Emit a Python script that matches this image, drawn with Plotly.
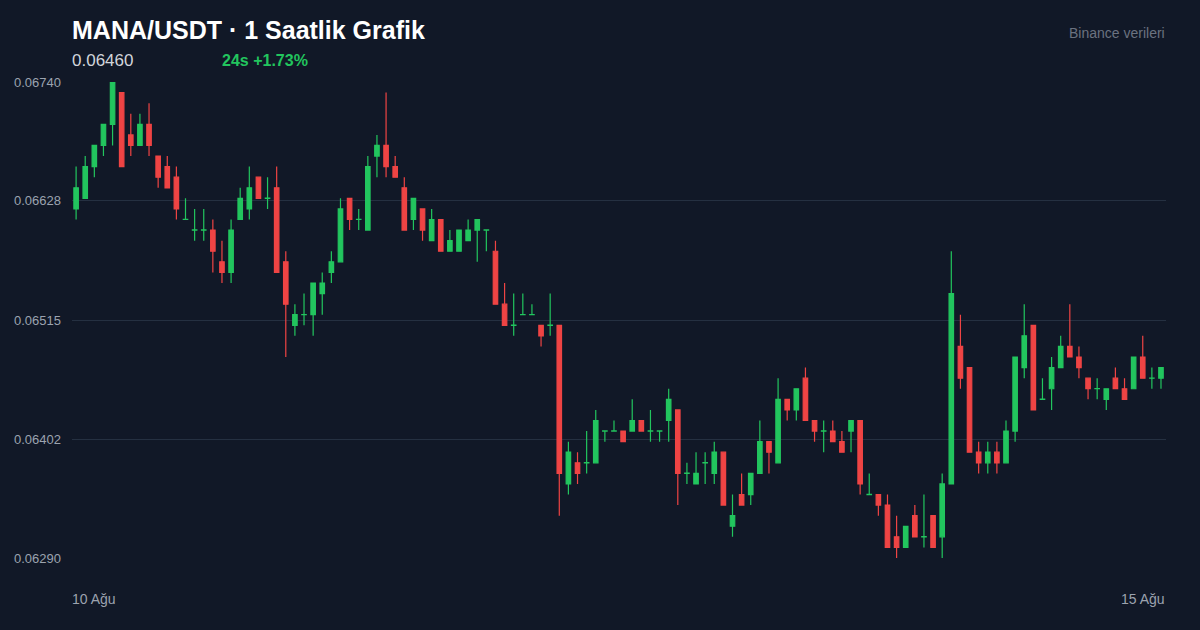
import plotly.graph_objects as go

BASE = 0.0674
STEP = 0.0001
# values in steps below 0.06740
open_k  = [12,11,8,6,4,1,5,6,4,7,8,9,13,14,14,14,17,18,13,12,
           9,11,10,17,23,22,22,20,18,17,11,13,14,7,6,8,10,13,12,15,
           13,16,16,15,14,14,16,21,23,22,22,23,23,23,38,36,36,36,33,33,
           33,33,32,33,33,32,31,37,38,36,37,35,42,39,39,37,34,36,30,31,
           28,32,33,33,34,33,32,39,39,40,43,44,41,43,41,43,38,25,27,35,
           36,35,36,33,27,23,30,29,27,25,26,28,29,30,28,29,29,26,28,28]
close_k = [10,8,6,4,0,8,6,4,6,9,10,12,13,14,14,16,18,14,11,10,
           11,11,18,21,22,22,19,19,17,12,13,13,8,6,8,9,14,11,14,13,
           16,15,14,14,13,14,21,23,23,22,22,24,23,37,35,37,36,32,33,33,
           34,32,33,33,33,30,37,37,37,36,35,40,41,40,37,34,35,30,31,29,
           32,33,33,34,35,32,38,39,40,44,44,42,43,43,44,38,20,28,35,36,
           35,36,33,26,24,31,30,27,25,26,27,29,29,29,29,30,26,28,28,27]
high_k  = [8,7,6,4,0,1,3,3,2,7,7,8,11,12,12,13,15,13,10,8,
           9,9,8,16,21,20,19,18,16,11,11,12,7,5,1,7,9,11,12,12,
           13,14,14,13,13,14,15,19,20,20,21,23,20,23,34,35,33,31,33,32,
           33,30,32,31,33,29,31,36,35,35,34,35,39,37,37,32,34,28,30,29,
           27,32,32,32,33,32,32,37,39,39,41,42,40,39,41,37,16,22,27,34,
           34,34,32,26,21,23,28,26,24,21,25,28,28,29,27,28,26,24,27,27]
low_k   = [13,11,9,7,6,8,7,6,7,10,10,13,13,15,15,18,19,19,13,13,
           11,12,18,26,24,23,24,22,19,17,14,14,14,9,9,9,14,14,15,15,
           16,16,16,15,17,16,21,23,24,22,22,25,24,41,39,38,37,36,34,33,
           34,33,33,34,34,34,40,38,38,38,38,40,43,40,40,37,37,36,32,32,
           32,34,35,34,35,35,39,39,41,44,45,44,43,44,44,45,38,29,35,37,
           37,37,36,34,28,31,30,31,27,26,28,30,30,31,29,30,29,28,29,29]

opens = [round(BASE - k*STEP, 5) for k in open_k]
closes = [round(BASE - k*STEP, 5) for k in close_k]
highs = [round(BASE - k*STEP, 5) for k in high_k]
lows = [round(BASE - k*STEP, 5) for k in low_k]
# doji: nudge so they render as increasing (green)
closes_plot = [c + 0.0000015 if c == o else c for o, c in zip(opens, closes)]
x = list(range(len(opens)))

y_ticks = [0.06290, 0.06402, 0.06515, 0.06628, 0.06740]
y_tick_text = ["0.06290", "0.06402", "0.06515", "0.06628", "0.06740"]

BG = "#111827"
GREEN = "#22c55e"
RED = "#ef4444"

fig = go.Figure(go.Candlestick(
    x=x, open=opens, high=highs, low=lows, close=closes_plot,
    increasing=dict(line=dict(color=GREEN, width=1.2), fillcolor=GREEN),
    decreasing=dict(line=dict(color=RED, width=1.2), fillcolor=RED),
    whiskerwidth=0, hoverinfo="skip"))

fig.update_layout(
    width=1200, height=630, paper_bgcolor=BG, plot_bgcolor=BG,
    margin=dict(l=72, r=34, t=82, b=72), showlegend=False,
    font=dict(family="Liberation Sans, Arial, sans-serif", color="#9ca3af"),
    xaxis=dict(range=[-0.45, 119.55], showgrid=False, showticklabels=False,
               zeroline=False, rangeslider=dict(visible=False), fixedrange=True),
    yaxis=dict(range=[0.0629, 0.0674], tickvals=y_ticks, ticktext=y_tick_text,
               gridcolor="#253041", gridwidth=1, zeroline=False,
               tickfont=dict(size=13, color="#9ca3af"), ticklabelstandoff=10),
)
ann = [
    dict(text="<b>MANA/USDT · 1 Saatlik Grafik</b>", x=72, y=30, font=dict(size=25, color="#ffffff")),
    dict(text="0.06460", x=72, y=61, font=dict(size=17, color="#d1d5db")),
    dict(text="<b>24s +1.73%</b>", x=222, y=61, font=dict(size=16, color=GREEN)),
    dict(text="10 Ağu", x=72, y=599, font=dict(size=14, color="#9ca3af")),
]
for a in ann:
    fig.add_annotation(xref="paper", yref="paper", x=(a["x"]-72)/1094, y=(558-a["y"])/476, xshift=-2,
                       text=a["text"], showarrow=False, xanchor="left", yanchor="middle", font=a["font"])
fig.add_annotation(xref="paper", yref="paper", x=1, y=(558-599)/476, text="15 Ağu", showarrow=False,
                   xanchor="right", yanchor="middle", xshift=1, font=dict(size=14, color="#9ca3af"))
fig.add_annotation(xref="paper", yref="paper", x=1, y=(558-33)/476, text="Binance verileri", showarrow=False,
                   xanchor="right", yanchor="middle", xshift=1, font=dict(size=14, color="#6b7280"))
fig.write_html("out.html", config={"displayModeBar": False, "staticPlot": True})
with open("out.html", encoding="utf-8") as f:
    html = f.read()
html = html.replace("<body>", '<body style="margin:0;padding:0;background:#111827;overflow:hidden">', 1)
with open("out.html", "w", encoding="utf-8") as f:
    f.write(html)
